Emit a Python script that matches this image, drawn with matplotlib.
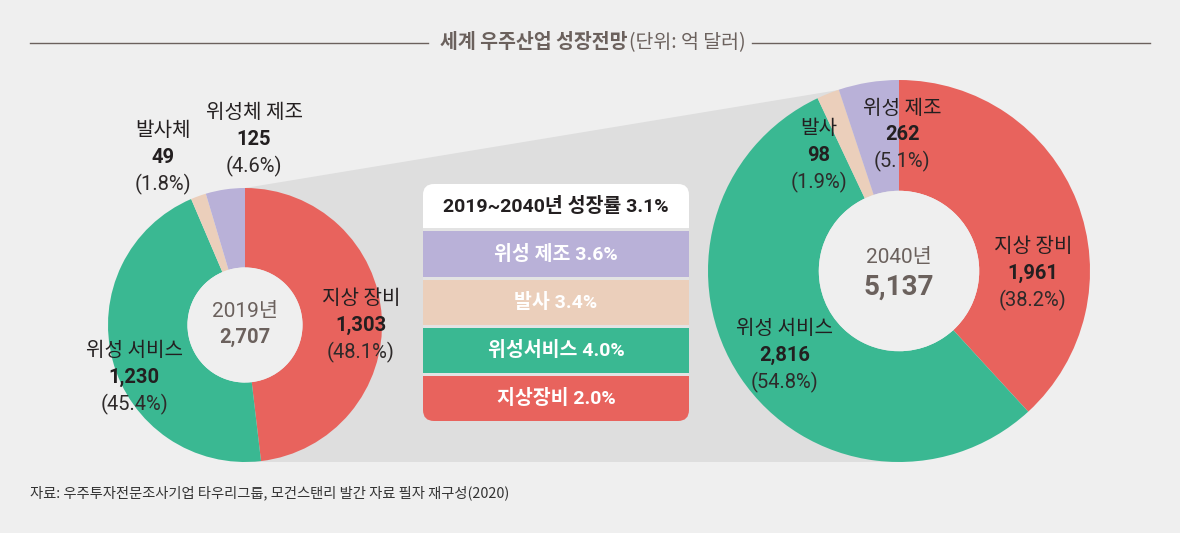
import matplotlib
matplotlib.use("Agg")
import matplotlib.pyplot as plt
from matplotlib.patches import Polygon, Circle, FancyBboxPatch, Rectangle

plt.rcParams['font.family'] = ['Noto Sans CJK KR', 'DejaVu Sans']
MIX = ['Roboto', 'Noto Sans CJK KR', 'DejaVu Sans']

# ---------------- data ----------------
labels_2019 = ['지상 장비', '위성 서비스', '발사체', '위성체 제조']
values_2019 = [1303, 1230, 49, 125]
labels_2040 = ['지상 장비', '위성 서비스', '발사', '위성 제조']
values_2040 = [1961, 2816, 98, 262]
years = ['2019년', '2040년']
growth_labels = ['위성 제조', '발사', '위성서비스', '지상장비']
growth_rates = [3.6, 3.4, 4.0, 2.0]
total_growth = 3.1
title_bold = '세계 우주산업 성장전망'
title_unit = '(단위: 억 달러)'
source = '자료: 우주투자전문조사기업 타우리그룹, 모건스탠리 발간 자료 필자 재구성(2020)'

# ---------------- style ----------------
W, H = 1180, 533
BG = '#efefef'
ZOOM = '#dedede'
colors = ['#e8635d', '#3ab892', '#ebcfbb', '#b9b1d8']
growth_colors = ['#b9b1d8', '#ebcfbb', '#3ab892', '#e8635d']
TXT = '#231f20'
GRAY = '#6b615d'

def Y(y):
    return H - y

fig = plt.figure(figsize=(W / 100, H / 100), dpi=100, facecolor=BG)
ax = fig.add_axes([0, 0, 1, 1])
ax.set_facecolor(BG)

# donut geometry (pixels)
c1, r1 = (245, 325), 137
c2, r2 = (899, 271), 191
hole = 0.42

# zoom trapezoid
ax.add_patch(Polygon([(c1[0], Y(c1[1] - r1)), (c2[0], Y(c2[1] - r2)),
                      (c2[0], Y(462)), (c1[0], Y(462))],
                     closed=True, facecolor=ZOOM, edgecolor='none', zorder=0))

for (cx, cy), r, vals in [(c1, r1, values_2019), (c2, r2, values_2040)]:
    ax.pie(vals, colors=colors, startangle=90, counterclock=False,
           center=(cx, Y(cy)), radius=r, frame=True,
           wedgeprops=dict(width=r * (1 - hole), linewidth=0))
    ax.add_patch(Circle((cx, Y(cy)), r * hole, facecolor=BG, edgecolor='none', zorder=3))

def label3(x, y, name, val, total, fs=14.5, dy=26.5):
    ax.text(x, Y(y), name, ha='center', va='center', fontsize=fs, color=TXT, zorder=5)
    ax.text(x, Y(y + dy), f'{val:,}', ha='center', va='center', fontsize=fs,
            fontweight='bold', color=TXT, zorder=5, family=MIX)
    ax.text(x, Y(y + 2 * dy), f'({val / total * 100:.1f}%)', ha='center', va='center',
            fontsize=fs, color='#2e2a2a', fontweight='normal', zorder=5, family=MIX)

t1, t2 = sum(values_2019), sum(values_2040)
pos_2019 = [(361, 299), (134, 351), (163, 131), (254, 113)]
pos_2040 = [(1033, 247), (785, 329), (819, 129), (902, 108)]
for (x, y), n, v in zip(pos_2019, labels_2019, values_2019):
    label3(x, y, n, v, t1)
for (x, y), n, v in zip(pos_2040, labels_2040, values_2040):
    label3(x, y, n, v, t2)

# centers
ax.text(c1[0], Y(311), years[0], ha='center', va='center', fontsize=15, color=GRAY,
        zorder=5, family=MIX)
ax.text(c1[0], Y(337), f'{t1:,}', ha='center', va='center', fontsize=14.5,
        fontweight='bold', color=GRAY, zorder=5, family=MIX)
ax.text(c2[0], Y(258), years[1], ha='center', va='center', fontsize=15, color=GRAY,
        zorder=5, family=MIX)
ax.text(c2[0], Y(287), f'{t2:,}', ha='center', va='center', fontsize=20,
        fontweight='bold', color=GRAY, zorder=5, family=MIX)

# growth table
bx0, bx1, by0, by1 = 423, 689, 184, 421
box = FancyBboxPatch((bx0, Y(by1)), bx1 - bx0, by1 - by0,
                     boxstyle='round,pad=0,rounding_size=11',
                     facecolor='#e3e3e3', edgecolor='none', zorder=4)
ax.add_patch(box)
rows = [(184, 228), (231, 277), (280, 325), (328, 373), (376, 421)]
row_colors = ['white'] + growth_colors
row_texts = [f'2019~2040년 성장률 {total_growth}%'] + \
            [f'{l} {g:.1f}%' for l, g in zip(growth_labels, growth_rates)]
for i, ((ry0, ry1), col, txt) in enumerate(zip(rows, row_colors, row_texts)):
    rect = Rectangle((bx0, Y(ry1)), bx1 - bx0, ry1 - ry0, facecolor=col,
                     edgecolor='none', zorder=5)
    ax.add_patch(rect)
    rect.set_clip_path(box)
    ax.text((bx0 + bx1) / 2, Y((ry0 + ry1) / 2), txt, ha='center', va='center',
            fontsize=14, fontweight='bold', family=MIX,
            color=TXT if i == 0 else 'white', zorder=6)

# title
ax.plot([30, 428], [Y(43), Y(43)], color=GRAY, lw=1, zorder=2)
ax.plot([752, 1150], [Y(43), Y(43)], color=GRAY, lw=1, zorder=2)
tb = ax.text(440, Y(43), title_bold, ha='left', va='center', fontsize=14,
             fontweight='bold', color=GRAY)
ax.annotate(title_unit, xy=(1, 0.5), xycoords=tb, xytext=(1, 0), textcoords='offset points',
            ha='left', va='center', fontsize=14, color=GRAY)

# source
ax.text(30, Y(493), source, ha='left', va='center', fontsize=10.3, color='#333333')

ax.set_xlim(0, W)
ax.set_ylim(0, H)
ax.set_aspect('auto')
ax.axis('off')
fig.savefig('out.png', dpi=100, facecolor=BG)
